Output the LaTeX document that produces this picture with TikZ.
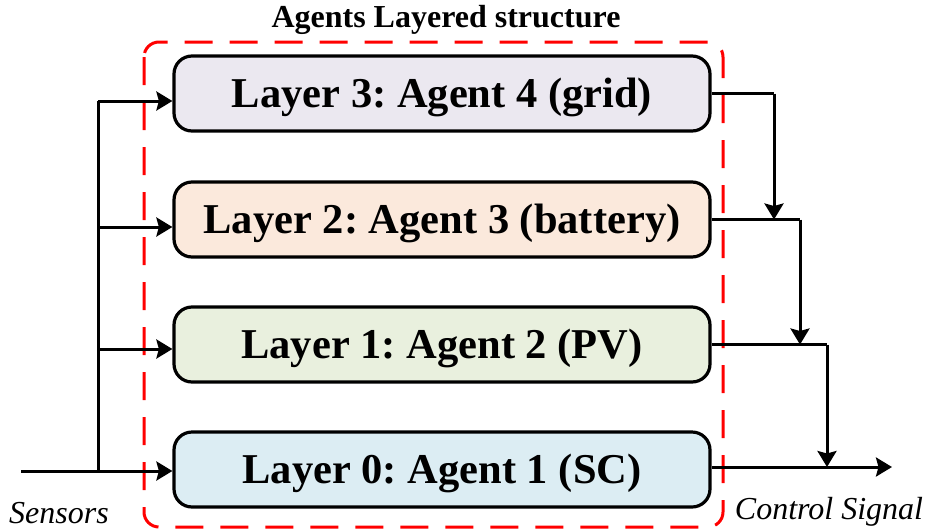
\documentclass[tikz,border=0pt]{standalone}
\usepackage{fontspec}
\setmainfont{Liberation Serif}
\usetikzlibrary{arrows.meta}

\definecolor{gridfill}{HTML}{EBE8F0}
\definecolor{battfill}{HTML}{FBE9DC}
\definecolor{pvfill}{HTML}{E9F0DE}
\definecolor{scfill}{HTML}{DCEDF3}

\tikzset{
  agentbox/.style={draw=black, line width=3.2pt, rounded corners=18pt,
    minimum width=536pt, minimum height=75pt, inner sep=0pt,
    font=\fontsize{42.5}{46}\selectfont\bfseries,
    text height=31pt, text depth=4pt},
  wire/.style={line width=3pt, draw=black},
  flow/.style={wire, -{Stealth[length=16pt,width=19pt,inset=2.5pt]}},
  group/.style={draw=red, line width=3pt, dash pattern=on 28pt off 17pt,
    rounded corners=15pt},
  caption/.style={font=\fontsize{32}{34}\selectfont\itshape, anchor=base}
}

\begin{document}
\frenchspacing
\begin{tikzpicture}[x=1pt, y=-1pt]
  \useasboundingbox (0,0) rectangle (927,531);

  % dashed frame around the agent layers
  \draw[group] (144,42) rectangle (723,527);
  \node[font=\fontsize{32}{34}\selectfont\bfseries, anchor=base] (title)
    at (446,27) {Agents Layered structure};

  % agent layers
  \node[agentbox, fill=gridfill] (b3) at (442,93.5) {Layer 3: Agent 4 (grid)};
  \node[agentbox, fill=battfill] (b2) at (442,219.5) {Layer 2: Agent 3 (battery)};
  \node[agentbox, fill=pvfill]   (b1) at (442,344.5) {Layer 1: Agent 2 (PV)};
  \node[agentbox, fill=scfill]   (b0) at (442,469.5) {Layer 0: Agent 1 (SC)};

  % sensor distribution on the left
  \coordinate (src) at (21,471);
  \coordinate (t0) at (98,471);
  \coordinate (t1) at (98,349);
  \coordinate (t2) at (98,227);
  \coordinate (t3) at (98,101);
  \draw[wire] (t0) -- (t3);
  \draw[flow] (src) -- (src -| b0.west);
  \draw[flow] (t1) -- (t1 -| b1.west);
  \draw[flow] (t2) -- (t2 -| b2.west);
  \draw[flow] (t3) -- (t3 -| b3.west);

  % control signal merging on the right
  \coordinate (m3) at (774,93.5);
  \coordinate (m2) at (800,219.5);
  \coordinate (m1) at (827,344.5);
  \coordinate (out) at (892,467);
  \draw[wire] (b3.east) -- (m3);
  \draw[flow] (m3) -- (m3 |- b2.east);
  \draw[wire] (b2.east) -- (m2);
  \draw[flow] (m2) -- (m2 |- b1.east);
  \draw[wire] (b1.east) -- (m1);
  \draw[flow] (m1) -- (m1 |- out);
  \draw[flow] (out -| b0.east) -- (out);

  \node[caption] (sens) at (59,523) {Sensors};
  \node[caption] (ctrl) at (829,519) {Control Signal};
\end{tikzpicture}
\end{document}
